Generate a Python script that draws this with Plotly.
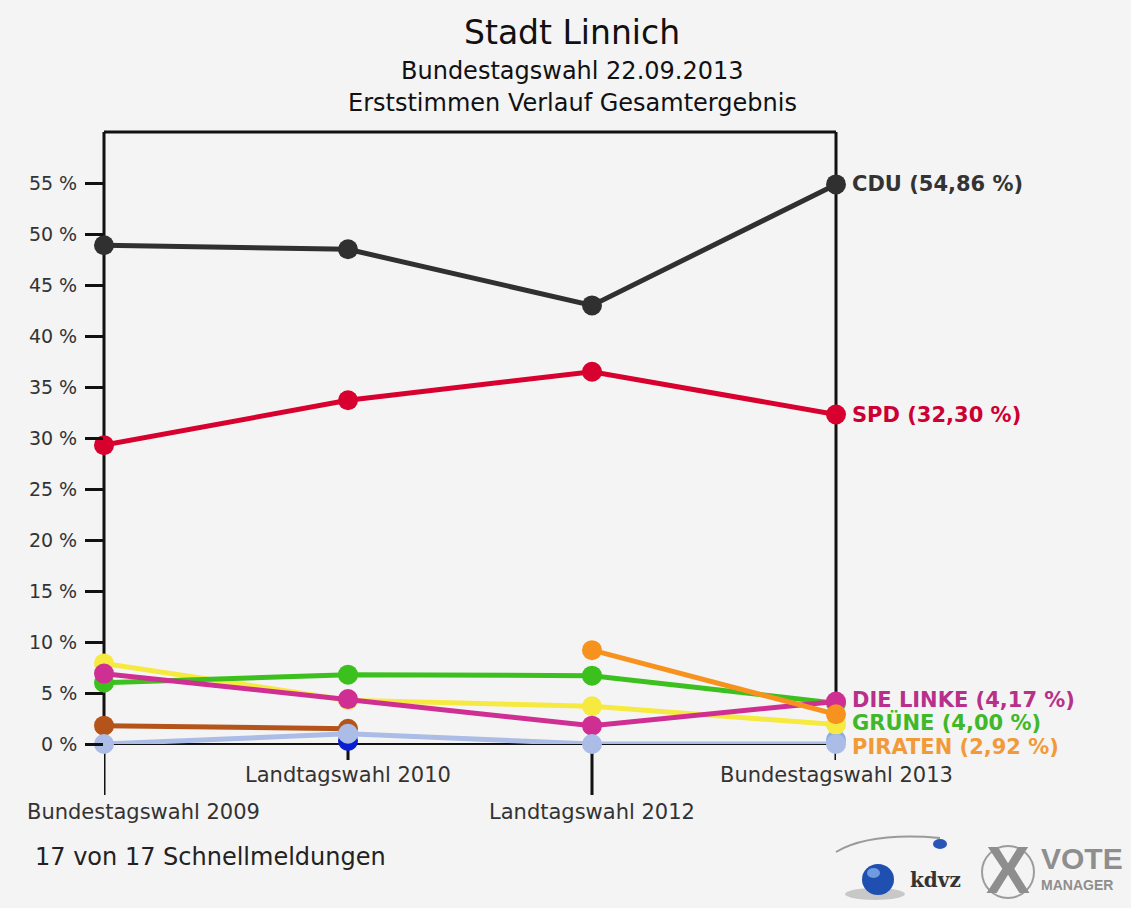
import plotly.graph_objects as go

# ---------------- data ----------------
categories = ["Bundestagswahl 2009", "Landtagswahl 2010", "Landtagswahl 2012", "Bundestagswahl 2013"]

cdu = [48.9, 48.5, 43.0, 54.86]
spd = [29.3, 33.7, 36.5, 32.30]
gruene = [6.0, 6.8, 6.7, 4.00]
linke = [6.9, 4.4, 1.8, 4.17]
fdp = [7.9, 4.3, 3.7, 1.9]
piraten = [None, None, 9.2, 2.92]
sonstige_braun = [1.8, 1.5, None, None]
sonstige_hellblau = [0.0, 1.0, 0.0, 0.0]
sonstige_blau = [None, 0.3, None, None]
sonstige_mittelblau = [None, None, None, 0.4]

y_tick_values = [0, 5, 10, 15, 20, 25, 30, 35, 40, 45, 50, 55]
y_tick_labels = [f"{v} %" for v in y_tick_values]

end_labels = ["CDU (54,86 %)", "SPD (32,30 %)", "DIE LINKE (4,17 %)", "GRÜNE (4,00 %)", "PIRATEN (2,92 %)"]
end_label_y = [54.86, 32.30, 4.3, 2.1, 0.0]
end_label_shift = [0, 0, 0, 0, -3]
end_label_colors = ["#333333", "#cc0033", "#b8308a", "#3fb82a", "#f29a3a"]

title = "Stadt Linnich"
subtitle1 = "Bundestagswahl 22.09.2013"
subtitle2 = "Erststimmen Verlauf Gesamtergebnis"
footer = "17 von 17 Schnellmeldungen"

FONT = "DejaVu Sans"
BG = "#f4f4f4"

series = [
    ("Blau", sonstige_blau, "#0a1fd0"),
    ("Mittelblau", sonstige_mittelblau, "#8eaee6"),
    ("Braun", sonstige_braun, "#b4541a"),
    ("FDP", fdp, "#f6ea40"),
    ("GRÜNE", gruene, "#3cc01e"),
    ("DIE LINKE", linke, "#cf2f93"),
    ("PIRATEN", piraten, "#f7921e"),
    ("Hellblau", sonstige_hellblau, "#abbde6"),
    ("SPD", spd, "#d7002f"),
    ("CDU", cdu, "#303030"),
]

fig = go.Figure()
for name, vals, col in series:
    fig.add_trace(go.Scatter(
        x=categories, y=vals, name=name, mode="lines+markers",
        line=dict(color=col, width=5),
        marker=dict(color=col, size=20),
        cliponaxis=False, connectgaps=False, hoverinfo="skip",
    ))

shapes = []
frame_col = "#111111"
shapes.append(dict(type="line", xref="paper", yref="paper", x0=0, x1=1, y0=1, y1=1,
                   line=dict(color=frame_col, width=3), layer="below"))
shapes.append(dict(type="line", xref="paper", yref="paper", x0=0, x1=0, y0=0, y1=1,
                   line=dict(color=frame_col, width=3), layer="below"))
shapes.append(dict(type="line", xref="paper", yref="paper", x0=1, x1=1, y0=0, y1=1,
                   line=dict(color=frame_col, width=3), layer="below"))
shapes.append(dict(type="line", xref="paper", yref="paper", x0=0, x1=1, y0=0, y1=0,
                   line=dict(color=frame_col, width=2), layer="below"))
for i, c in enumerate(categories):
    ln = -51 / 612 if i % 2 == 0 else -16 / 612
    shapes.append(dict(type="line", xref="x", yref="paper", x0=c, x1=c, y0=0, y1=ln,
                       line=dict(color=frame_col, width=3), layer="below"))

annotations = []
for i, c in enumerate(categories):
    annotations.append(dict(
        x=c, y=0, xref="x", yref="y", text=c, showarrow=False,
        xanchor="center", yanchor="middle",
        xshift=39 if i == 0 else 0,
        yshift=-68 if i % 2 == 0 else -31,
        font=dict(family=FONT, size=21, color="#333333"),
    ))
for txt, yv, ys, col in zip(end_labels, end_label_y, end_label_shift, end_label_colors):
    annotations.append(dict(
        x=categories[-1], y=yv, xref="x", yref="y", text=txt, showarrow=False,
        xanchor="left", yanchor="middle", xshift=14, yshift=ys,
        font=dict(family=FONT, size=21, color=col, weight="bold"),
    ))
for txt, ypx, sz in [(title, 33, 33), (subtitle1, 71, 24), (subtitle2, 103, 24)]:
    annotations.append(dict(
        x=(572 - 104) / 732, y=(744 - ypx) / 612, xref="paper", yref="paper",
        text=txt, showarrow=False, xanchor="center", yanchor="middle",
        font=dict(family=FONT, size=sz, color="#111111"),
    ))
annotations.append(dict(
    x=(33 - 104) / 732, y=(744 - 857) / 612, xref="paper", yref="paper",
    text=footer, showarrow=False, xanchor="left", yanchor="middle",
    font=dict(family=FONT, size=24, color="#222222"),
))

# ----- logo (kdvz + VOTE MANAGER) -----
def px(xp):
    return (xp - 104) / 732

def py(yp):
    return (744 - yp) / 612

shapes.append(dict(type="path", xref="paper", yref="paper",
                   path=f"M {px(836)} {py(852)} Q {px(870)} {py(832)} {px(940)} {py(838)}",
                   line=dict(color="#9a9a9a", width=2)))
shapes.append(dict(type="circle", xref="paper", yref="paper",
                   x0=px(933), x1=px(947), y0=py(849), y1=py(839),
                   fillcolor="#2a55b8", line=dict(width=0)))
shapes.append(dict(type="circle", xref="paper", yref="paper",
                   x0=px(845), x1=px(905), y0=py(900), y1=py(888),
                   fillcolor="#c8c8c8", line=dict(width=0)))
shapes.append(dict(type="circle", xref="paper", yref="paper",
                   x0=px(862), x1=px(894), y0=py(895), y1=py(864),
                   fillcolor="#1f4fb0", line=dict(width=0)))
shapes.append(dict(type="circle", xref="paper", yref="paper",
                   x0=px(867), x1=px(880), y0=py(878), y1=py(868),
                   fillcolor="#6f9be0", line=dict(width=0)))
shapes.append(dict(type="circle", xref="paper", yref="paper",
                   x0=px(982), x1=px(1034), y0=py(898), y1=py(846),
                   line=dict(color="#9c9c9c", width=2)))
annotations.append(dict(x=px(935), y=py(880), xref="paper", yref="paper", text="<b>kdvz</b>",
                        showarrow=False, xanchor="center", yanchor="middle",
                        font=dict(family="DejaVu Serif", size=20, color="#333333")))
annotations.append(dict(x=px(1008), y=py(870), xref="paper", yref="paper", text="<b>X</b>",
                        showarrow=False, xanchor="center", yanchor="middle",
                        font=dict(family="Liberation Sans", size=66, color="#8e8e8e")))
annotations.append(dict(x=px(1039), y=py(858), xref="paper", yref="paper", text="<b>VOTE</b>",
                        showarrow=False, xanchor="left", yanchor="middle",
                        font=dict(family="Liberation Sans", size=30, color="#8e8e8e")))
annotations.append(dict(x=px(1039), y=py(885), xref="paper", yref="paper", text="<b>MANAGER</b>",
                        showarrow=False, xanchor="left", yanchor="middle",
                        font=dict(family="Liberation Sans", size=14, color="#8e8e8e")))

fig.update_layout(
    width=1131, height=908,
    margin=dict(l=104, r=295, t=132, b=164),
    paper_bgcolor=BG, plot_bgcolor=BG,
    showlegend=False,
    xaxis=dict(type="category", categoryarray=categories, categoryorder="array",
               range=[0, 3], showgrid=False, zeroline=False, showline=False,
               showticklabels=False, ticks=""),
    yaxis=dict(range=[0, 60], showgrid=False, zeroline=False, showline=False,
               tickvals=y_tick_values, ticktext=y_tick_labels,
               ticks="outside", ticklen=18, tickwidth=3, tickcolor=frame_col,
               ticklabelstandoff=4,
               tickfont=dict(family=FONT, size=19, color="#333333")),
    shapes=shapes,
    annotations=annotations,
)

fig.write_html(
    "out.html",
    config={"displayModeBar": False},
    post_script="document.body.style.margin='0';document.body.style.overflow='hidden';",
)
